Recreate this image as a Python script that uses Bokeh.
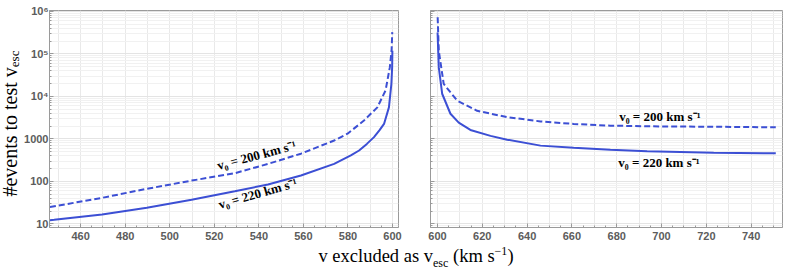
import math
from bokeh.plotting import figure
from bokeh.models import (FixedTicker, Label, Div, Range1d, CustomJSTickFormatter, Spacer)
from bokeh.layouts import row, column
from bokeh.embed import file_html
from bokeh.resources import INLINE

# ---------------- data ----------------
# left panel: v below 600 km/s
v_left_220 = [446.2, 448.1, 469.6, 489.7, 509.8, 529.2, 544.1, 558.9, 573.8, 581.3,
              585.0, 588.5, 591.7, 594.2, 596.2, 598.4, 599.5, 599.85, 599.95]
n_left_220 = [12.1, 12.4, 16.6, 23.8, 36.7, 58.5, 84.1, 137, 257, 407,
              531, 760, 1096, 1600, 2239, 5495, 19500, 47900, 117500]

v_left_200 = [446.2, 469.6, 489.7, 509.8, 529.2, 544.1, 558.9, 573.8, 579.8, 587.2,
              593.2, 596.9, 598.8, 599.6, 599.9]
n_left_200 = [24.8, 40.9, 66.7, 104, 155, 257, 447, 912, 1318, 2692,
              5495, 13800, 47900, 120000, 324000]

# right panel: v above 600 km/s
v_right_220 = [600.05, 600.6, 602.1, 605.8, 609.5, 614.7, 623.7, 631.1, 646.0, 660.8,
               677.2, 693.6, 723.3, 751.0]
n_right_220 = [316000, 47900, 11500, 3890, 2400, 1620, 1175, 955, 692, 617,
               550, 513, 468, 457]

v_right_200 = [600.1, 600.6, 602.8, 608.8, 617.7, 631.1, 646.0, 660.8, 677.2, 700.0,
               720.0, 740.0, 751.0]
n_right_200 = [724000, 117500, 19500, 7940, 4570, 3240, 2570, 2240, 2040, 1950,
               1930, 1890, 1860]

x_ticks_left = [460, 480, 500, 520, 540, 560, 580, 600]
x_ticks_right = [600, 620, 640, 660, 680, 700, 720, 740]
y_ticks = [10, 100, 1000, 10000, 100000, 1000000]
y_tick_labels = ["10", "100", "1000", "10\u2074", "10\u2075", "10\u2076"]

label_200 = "v\u2080 =  200 km s\u207b\u00b9"
label_220 = "v\u2080 =  220 km s\u207b\u00b9"

# ---------------- styling ----------------
LINE = "#3c4fd4"
FRAME = "#9a9a9a"
TICKTXT = "#5c5c5c"
Y_RANGE = (8.2, 1.045e6)
FIG_H = 245

y_minor = [k * 10 ** d for d in range(0, 7) for k in range(2, 10)]
ylab_code = ("const t = %s; const l = %s; for (let i = 0; i < t.length; i++) {"
             " if (Math.abs(Math.log10(tick) - Math.log10(t[i])) < 1e-6) return l[i]; } return '';"
             % (str(y_ticks), str(y_tick_labels).replace("'", '"')))
BLANK = "return '';"


def style_axis(ax, show_labels, standoff):
    ax.axis_line_color = FRAME
    ax.major_tick_line_color = FRAME
    ax.minor_tick_line_color = FRAME
    ax.major_tick_in = 4
    ax.major_tick_out = 0
    ax.minor_tick_in = 2
    ax.minor_tick_out = 0
    if show_labels:
        ax.major_label_text_font = "Liberation Sans"
        ax.major_label_text_font_style = "bold"
        ax.major_label_text_font_size = "11px"
        ax.major_label_text_color = TICKTXT
        ax.major_label_standoff = standoff
    else:
        ax.formatter = CustomJSTickFormatter(code=BLANK)
        ax.major_label_text_font_size = "1px"
        ax.major_label_standoff = 0


def make_fig(xr, width, mbl, mbr, xt, xminor, xgrid, ylabels):
    p = figure(width=width, height=FIG_H, x_range=Range1d(*xr), y_range=Range1d(*Y_RANGE),
               y_axis_type="log", output_backend="svg", toolbar_location=None,
               min_border_left=mbl, min_border_right=mbr, min_border_top=10,
               min_border_bottom=18, background_fill_color="white",
               border_fill_color="white", outline_line_color=FRAME)
    xtick = FixedTicker(ticks=xt, minor_ticks=xminor)
    ytick = FixedTicker(ticks=y_ticks, minor_ticks=y_minor)
    p.xaxis.ticker = xtick
    p.yaxis.ticker = ytick
    p.yaxis.formatter = CustomJSTickFormatter(code=ylab_code)
    style_axis(p.xaxis[0], True, 4)
    style_axis(p.yaxis[0], ylabels, 1)
    p.xgrid.ticker = FixedTicker(ticks=xgrid)
    p.xgrid.grid_line_color = "#e9e9e9"
    p.ygrid.ticker = ytick
    p.ygrid.grid_line_color = "#e4e4e4"
    p.ygrid.minor_grid_line_color = "#f1f1f1"
    return p


# left strip carrying the rotated y-axis title
pt = figure(width=21, height=FIG_H, x_range=Range1d(0, 21), y_range=Range1d(0, FIG_H),
            output_backend="svg", toolbar_location=None, x_axis_location=None,
            y_axis_location=None, min_border=0, outline_line_color=None,
            background_fill_color="white", border_fill_color="white")
pt.xgrid.visible = False
pt.ygrid.visible = False
pt.add_layout(Label(x=9.8, y=181, angle=math.pi / 2, text="#events to test v",
                    text_font="Liberation Serif", text_font_size="20px", text_color="black",
                    text_align="right", text_baseline="middle"))
pt.add_layout(Label(x=13.7, y=181, angle=math.pi / 2, text="esc",
                    text_font="Liberation Serif", text_font_size="13px", text_color="black",
                    text_align="left", text_baseline="middle"))

p1 = make_fig((446.0, 602.7), 389, 26, 12, x_ticks_left,
              list(range(450, 605, 5)), list(range(450, 605, 10)), True)
p2 = make_fig((596.9, 754.0), 377, 20, 5, x_ticks_right,
              list(range(600, 755, 5)), list(range(600, 755, 10)), False)

p1.line(v_left_200, n_left_200, line_color=LINE, line_width=2, line_dash="6 3")
p1.line(v_left_220, n_left_220, line_color=LINE, line_width=2)
p2.line(v_right_200, n_right_200, line_color=LINE, line_width=2, line_dash="6 3")
p2.line(v_right_220, n_right_220, line_color=LINE, line_width=2)

lab_kw = dict(text_font="Liberation Serif", text_font_style="bold", text_font_size="13px",
              text_color="black", text_align="center", text_baseline="middle")
p1.add_layout(Label(x=539.7, y=420, text=label_200, angle=0.26, **lab_kw))
p1.add_layout(Label(x=540.2, y=53, text=label_220, angle=0.28, **lab_kw))
p2.add_layout(Label(x=700.0, y=3330, text=label_200, **lab_kw))
p2.add_layout(Label(x=699.6, y=274, text=label_220, **lab_kw))

xlabel = Div(text=('<div style="width:740px; font-family:\'Liberation Serif\'; font-size:18.5px; '
                   'line-height:12px; text-align:center; white-space:nowrap; color:black; '
                   'padding-top:0px">v excluded as v<sub style="font-size:12px; line-height:0">esc</sub> '
                   '(km s<sup style="font-size:12px; line-height:0">\u22121</sup>)</div>'),
             width=740, height=24)

layout = column(row(pt, p1, p2), row(Spacer(width=41, height=24), xlabel))

open("out.html", "w").write(file_html(layout, INLINE))
